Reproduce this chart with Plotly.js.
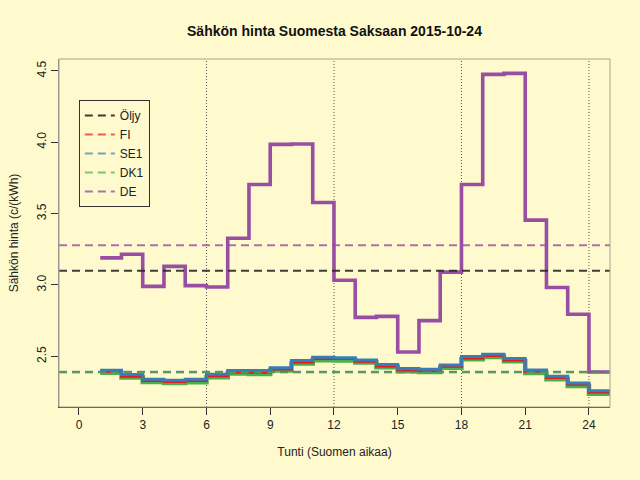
<!DOCTYPE html>
<html>
<head>
<meta charset="utf-8">
<script src="https://cdn.plot.ly/plotly-3.0.1.min.js"></script>
<style>
  html, body { margin: 0; padding: 0; background: #FFFACD; }
  #plot { width: 640px; height: 480px; }
</style>
</head>
<body>
<div id="plot"></div>
<script>
// tunnit 1..24, hinta c/kWh
var tunnit = [1,2,3,4,5,6,7,8,9,10,11,12,13,14,15,16,17,18,19,20,21,22,23,24];

var fi  = [2.395,2.360,2.330,2.323,2.330,2.364,2.390,2.388,2.411,2.460,2.484,2.484,
           2.465,2.432,2.404,2.400,2.430,2.488,2.505,2.474,2.395,2.351,2.304,2.250];
var se1 = [2.402,2.372,2.339,2.332,2.339,2.374,2.400,2.400,2.420,2.470,2.493,2.490,
           2.474,2.442,2.414,2.409,2.439,2.498,2.514,2.484,2.404,2.360,2.313,2.259];
var dk1 = [2.385,2.351,2.320,2.313,2.318,2.353,2.379,2.377,2.400,2.449,2.472,2.470,
           2.456,2.423,2.395,2.390,2.420,2.479,2.495,2.465,2.383,2.339,2.292,2.238];
var de  = [3.190,3.215,2.990,3.130,2.995,2.986,3.327,3.704,3.985,3.987,3.578,3.033,
           2.773,2.780,2.530,2.750,3.090,3.704,4.475,4.482,3.454,2.982,2.795,2.390];

// vaakaviivat (tasot)
var tasoNimet = ["Öljy", "FI", "SE1", "DK1", "DE"];
var tasot     = [3.10, 2.391, 2.392, 2.387, 3.278];

var xTicks = [0,3,6,9,12,15,18,21,24];
var yTicks = [2.5,3.0,3.5,4.0,4.5];
var pystyviivat = [6,12,18,24];

var xRange = [-0.94, 24.99];
var yRange = [2.145, 4.583];

// step-viiva: viimeinen tunti jatkuu tunnin loppuun
function askel(vals) {
  return {
    x: tunnit.concat([tunnit[tunnit.length - 1] + 1]),
    y: vals.concat([vals[vals.length - 1]])
  };
}

var tasoVarit = ["rgba(40,40,40,0.9)", "rgba(228,26,28,0.7)", "rgba(55,126,184,0.7)",
                 "rgba(77,175,74,0.7)", "rgba(152,78,163,0.8)"];

var data = [];

// askelviivat (ei legendaa)
var sarjat = [[dk1, "#4DAF4A", 4.5], [fi, "#E41A1C", 3], [se1, "#377EB8", 3], [de, "#984EA3", 3.6]];
sarjat.forEach(function (s) {
  var a = askel(s[0]);
  data.push({
    x: a.x, y: a.y, type: "scatter", mode: "lines",
    line: {shape: "hv", color: s[1], width: s[2]},
    showlegend: false, hoverinfo: "skip"
  });
});

// tasot legendalla
for (var i = 0; i < tasot.length; i++) {
  data.push({
    x: xRange, y: [tasot[i], tasot[i]], type: "scatter", mode: "lines",
    name: tasoNimet[i],
    line: {color: tasoVarit[i], width: 2, dash: "8px,5px"},
    legendrank: i + 1
  });
}

var shapes = pystyviivat.map(function (v) {
  return {type: "line", xref: "x", yref: "paper", x0: v, x1: v, y0: 0, y1: 1,
          line: {color: "#555555", width: 1, dash: "1px,2px"}, layer: "below"};
});
shapes.push({type: "rect", xref: "paper", yref: "paper", x0: 0, x1: 1, y0: 0, y1: 1,
             line: {color: "#a8a48c", width: 1}});

var fnt = "Liberation Sans, Arial, sans-serif";

var layout = {
  width: 640, height: 480,
  paper_bgcolor: "#FFFACD", plot_bgcolor: "#FFFACD",
  margin: {l: 59, r: 30, t: 59, b: 73},
  font: {family: fnt, size: 12, color: "#222"},
  title: {text: "<b>Sähkön hinta Suomesta Saksaan 2015-10-24</b>",
          font: {family: fnt, size: 14, color: "#111"},
          x: 0.5, xref: "paper", y: 0.935, yanchor: "middle"},
  xaxis: {
    range: xRange, tickvals: xTicks, ticks: "outside", ticklen: 7, tickcolor: "#333",
    showgrid: false, zeroline: false, showline: true, linecolor: "#333", linewidth: 1,
    title: {text: "Tunti (Suomen aikaa)", standoff: 16, font: {size: 12}}
  },
  yaxis: {
    range: yRange, tickvals: yTicks, ticktext: ["2.5","3.0","3.5","4.0","4.5"],
    ticks: "outside", ticklen: 7, tickcolor: "#333", tickangle: -90,
    showgrid: false, zeroline: false, showline: true, linecolor: "#888", linewidth: 1,
    title: {text: "Sähkön hinta (c/(kWh)", standoff: 14, font: {size: 12}}
  },
  legend: {x: 0.036, y: 0.882, xanchor: "left", yanchor: "top",
           bgcolor: "#FFFACD", bordercolor: "#333", borderwidth: 1,
           font: {size: 12}, itemwidth: 30},
  shapes: shapes
};

Plotly.newPlot("plot", data, layout, {staticPlot: true});
</script>
</body>
</html>
